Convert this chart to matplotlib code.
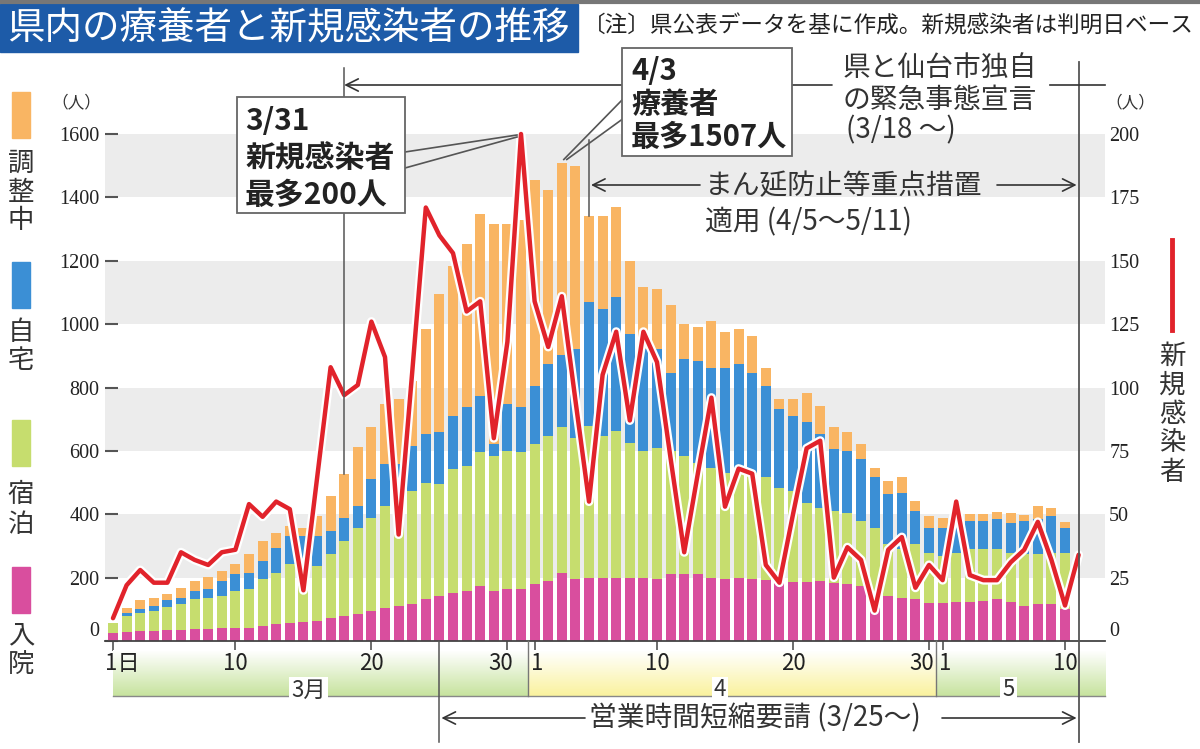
import numpy as np
import matplotlib
matplotlib.use('Agg')
import matplotlib.pyplot as plt
import matplotlib.patheffects as pe
from matplotlib.patches import Rectangle

plt.rcParams['font.family'] = ['Noto Sans CJK JP', 'DejaVu Sans']

# ---- data (3/1 .. 5/10 for bars, 3/1 .. 5/11 for new cases) ----
nyuin = [25, 28, 32, 32, 34, 34, 37, 39, 40, 40,
         42, 47, 53, 58, 60, 63, 74, 79, 84, 95,
         105, 110, 116, 132, 142, 153, 158, 174, 158, 163,
         163, 179, 189, 216, 195, 200, 200, 200, 200, 200,
         197, 210, 210, 210, 200, 197, 200, 197, 193, 184,
         186, 186, 189, 184, 179, 174, 147, 142, 137, 132,
         121, 121, 123, 123, 126, 132, 123, 110, 116, 116, 100]
shukuhaku = [33, 51, 57, 64, 74, 82, 95, 98, 102, 118,
             121, 148, 163, 184, 190, 174, 200, 237, 274, 294,
             321, 320, 358, 368, 353, 389, 395, 421, 427, 437,
             432, 442, 458, 458, 447, 479, 447, 463, 426, 400,
             413, 390, 374, 353, 347, 334, 347, 334, 323, 300,
             288, 251, 232, 227, 226, 205, 211, 163, 152, 173,
             158, 147, 156, 166, 163, 157, 156, 164, 158, 163, 179]
jitaku = [0, 8, 11, 14, 21, 21, 26, 26, 47, 52,
          53, 58, 79, 90, 80, 95, 73, 73, 68, 122,
          132, 130, 142, 153, 163, 169, 184, 179, 36, 147,
          142, 184, 227, 228, 279, 391, 400, 424, 342, 321,
          311, 247, 305, 321, 316, 332, 327, 316, 289, 248,
          237, 253, 232, 194, 195, 195, 158, 158, 179, 105,
          79, 90, 95, 90, 90, 95, 93, 105, 110, 116, 79]
chosei = [0, 18, 28, 25, 18, 31, 31, 40, 32, 32,
          58, 63, 47, 31, 28, 63, 111, 137, 185, 163,
          189, 203, 205, 331, 437, 473, 516, 573, 695, 569,
          593, 650, 549, 605, 579, 270, 293, 284, 232, 195,
          189, 214, 111, 108, 147, 111, 110, 114, 58, 31,
          52, 94, 89, 69, 58, 47, 31, 42, 48, 32,
          37, 31, 21, 21, 21, 23, 33, 19, 42, 26, 16]
shinki = [9, 22, 28, 23, 23, 35, 32, 30, 35, 36,
          54, 49, 55, 52, 20, 64, 108, 97, 101, 126,
          112, 42, 106, 171, 160, 153, 130, 134, 80, 118,
          200, 134, 116, 136, 95, 55, 105, 122, 87, 122,
          110, 72, 35, 66, 96, 53, 68, 66, 30, 23,
          50, 76, 79, 25, 37, 32, 12, 36, 41, 21,
          30, 24, 55, 26, 24, 24, 31, 36, 47, 32, 14, 34]

tick_days = [0, 9, 19, 29, 31, 40, 50, 60, 61, 70]
tick_labels = ['1日', '10', '20', '30', '1', '10', '20', '30', '1', '10']
months = ['3月', '4', '5']
left_ticks = list(range(0, 1601, 200))
right_ticks = list(range(0, 201, 25))

c_orange = '#f9b563'
c_blue = '#3b8fd5'
c_green = '#c6dd6e'
c_pink = '#d94e9e'
c_red = '#e1232b'
c_line = '#555555'

W, H = 1200, 749
fig = plt.figure(figsize=(W / 100, H / 100), dpi=100)
ax = fig.add_axes([105 / W, (H - 641) / H, 1000 / W, (641 - 130) / H])
ytop = 1600 + 4 * 1600 / 507
ax.set_xlim(-0.588, 72.94)
ax.set_ylim(0, ytop)

for lo in (200, 600, 1000, 1400):
    ax.axhspan(lo, lo + 200, color='#ececec', lw=0, zorder=0)

days = np.arange(len(nyuin))
bottom = np.zeros(len(days))
for vals, col in zip([nyuin, shukuhaku, jitaku, chosei], [c_pink, c_green, c_blue, c_orange]):
    ax.bar(days, vals, 0.74, bottom=bottom, color=col, lw=0, zorder=2)
    bottom = bottom + np.array(vals)
total = bottom

for s in ['top', 'right', 'left']:
    ax.spines[s].set_visible(False)
ax.spines['bottom'].set_color('#444444')
ax.spines['bottom'].set_linewidth(1.3)
ax.set_xticks(tick_days)
ax.tick_params(axis='x', direction='out', length=7, width=1.1, color='#444444', labelbottom=False)
ax.set_yticks(left_ticks)
ax.set_yticklabels([str(v) for v in left_ticks], fontfamily='Liberation Serif', fontsize=14.5, color='#222222')
ax.tick_params(axis='y', direction='in', length=9, width=1.5, color='#555555', pad=4)
ax.get_yticklabels()[0].set_va('bottom')

ax2 = ax.twinx()
ax2.set_ylim(0, ytop / 8)
ax2.set_yticks(right_ticks)
ax2.set_yticklabels([str(v) for v in right_ticks], fontfamily='Liberation Serif', fontsize=14.5, color='#222222')
ax2.tick_params(axis='y', length=0, pad=3)
ax2.get_yticklabels()[0].set_va('bottom')
for s in ax2.spines.values():
    s.set_visible(False)
ax2.plot(np.arange(len(shinki)), shinki, color=c_red, lw=3.2, solid_joinstyle='round',
         solid_capstyle='round', zorder=5,
         path_effects=[pe.Stroke(linewidth=6.5, foreground='white'), pe.Normal()])

# ---- overlay in pixel coordinates ----
ov = fig.add_axes([0, 0, 1, 1], zorder=10)
ov.set_xlim(0, W)
ov.set_ylim(H, 0)
ov.axis('off')
ov.patch.set_alpha(0)


def px(x, y=0, a=ax):
    X, Y = a.transData.transform((x, y))
    return X, H - Y


def vtext(x, ys, s, **kw):
    for ch, y in zip(s, ys):
        ov.text(x, y, ch, ha='center', va='center', **kw)


# title
ov.plot([0, W], [1.5, 1.5], color='#777777', lw=3)
ov.add_patch(Rectangle((0, 4), 578, 48, color='#1d5ba8'))
ov.text(7, 29, '県内の療養者と新規感染者の推移', color='white', fontsize=27, va='center')
ov.text(583, 26, '〔注〕県公表データを基に作成。新規感染者は判明日ベース', fontsize=16.3,
        va='center', color='#222222')

# left legend
for (y0, col), name, ys in zip([(92, c_orange), (262, c_blue), (420, c_green), (567, c_pink)],
                               ['調整中', '自宅', '宿泊', '入院'],
                               [(163, 192, 220), (332, 360), (494, 524), (636, 664)]):
    ov.add_patch(Rectangle((12, y0), 18, 46, color=col))
    vtext(21, ys, name, fontsize=19, color='#333333')

# right legend
ov.plot([1172, 1172], [240, 330], color=c_red, lw=3.5)
vtext(1172, (356, 385, 414, 443, 472), '新規感染者', fontsize=19, color='#333333')

ov.text(76, 103, '（人）', ha='center', va='center', fontsize=12, color='#333333')
ov.text(1130, 103, '（人）', ha='center', va='center', fontsize=12, color='#333333')

# x tick labels
for d, lab in zip(tick_days, tick_labels):
    dx = {'1日': 9, '30': -7, '1': 3}.get(lab, 0)
    ov.text(px(d)[0] + dx, 663, lab, ha='center', va='center', fontsize=16, color='#222222')

# month band
x_mar, _ = px(0)
x_apr, _ = px(30.5)
x_may, _ = px(60.5)
x_end = 1105
grad = np.linspace(0, 1, 40)[:, None, None]
for x0, x1, col, lab in [(x_mar, x_apr, (0.78, 0.89, 0.62), months[0]),
                         (x_apr, x_may, (0.98, 0.95, 0.62), months[1]),
                         (x_may, x_end, (0.78, 0.89, 0.62), months[2])]:
    img = np.ones((40, 2, 3)) * (1 - grad) + np.array(col)[None, None, :] * grad
    ov.imshow(img, extent=(x0, x1, 696, 650), aspect='auto', zorder=0)
    ov.text((x0 + x1) / 2 - 12, 690, lab, ha='center', va='center', fontsize=16, color='#333333',
            bbox=dict(fc='white', ec='none', pad=1.5), zorder=3)
ov.plot([x_mar, x_end], [696, 696], color='#888888', lw=1, zorder=2)
for xb in (x_apr, x_may):
    ov.plot([xb, xb], [641, 696], color='#777777', lw=1, zorder=2)
ov.set_xlim(0, W)
ov.set_ylim(H, 0)

arrow = dict(arrowstyle='->', color='#333333', lw=1.2, mutation_scale=22, shrinkA=0, shrinkB=0)

# 5/11 line
x511, _ = px(71)
ov.plot([x511, x511], [62, 742], color=c_line, lw=1.3)

# 3/18 emergency declaration
x318, y318 = px(17, total[17])
ov.plot([x318, x318], [68, y318], color=c_line, lw=1.1)
ov.annotate('', xy=(x318, 85), xytext=(832, 85), arrowprops=arrow)
ov.plot([1050, 1105], [85, 85], color='#333333', lw=1.2)
ov.text(843, 68, '県と仙台市独自', fontsize=20, va='center', color='#333333')
ov.text(843, 100, 'の緊急事態宣言', fontsize=20, va='center', color='#333333')
ov.text(846, 130, '(3/18 〜)', fontsize=20, va='center', color='#333333')

# 3/31 box
xp, yp = px(30, 200, ax2)
ov.plot([405, xp - 4], [152, yp + 1], color=c_line, lw=1.2)
ov.plot([405, xp - 4], [168, yp + 3], color=c_line, lw=1.2)
ov.add_patch(Rectangle((237, 97), 168, 116, fc='white', ec='#666666', lw=1.3, zorder=4))
for y, s in [(121, '3/31'), (158, '新規感染者'), (195, '最多200人')]:
    ov.text(245, y, s, fontsize=21.5, fontweight='bold', va='center', color='#222222', zorder=5)

# 4/3 box
xq, yq = px(33, total[33])
ov.plot([624, xq + 2], [98, yq - 4], color=c_line, lw=1.2)
ov.plot([624, xq + 5], [118, yq - 4], color=c_line, lw=1.2)
ov.add_patch(Rectangle((622, 48), 170, 108, fc='white', ec='#666666', lw=1.3, zorder=4))
for y, s in [(71, '4/3'), (104, '療養者'), (137, '最多1507人')]:
    ov.text(631, y, s, fontsize=21, fontweight='bold', va='center', color='#222222', zorder=5)

# 4/5 priority measures
x405, y405 = px(35, total[35])
ov.plot([x405, x405], [140, y405], color=c_line, lw=1.1)
ov.annotate('', xy=(x405 + 2, 185), xytext=(700, 185), arrowprops=arrow)
ov.annotate('', xy=(x511 - 2, 185), xytext=(997, 185), arrowprops=arrow)
ov.text(705, 186, 'まん延防止等重点措置', fontsize=20, va='center', color='#333333')
ov.text(705, 222, '適用 (4/5〜5/11)', fontsize=20, va='center', color='#333333')

# 3/25 shortened hours
x325, _ = px(24)
ov.plot([x325, x325], [641, 742], color=c_line, lw=1.1)
ov.annotate('', xy=(x325 + 2, 718), xytext=(585, 718), arrowprops=arrow)
ov.annotate('', xy=(x511 - 2, 718), xytext=(942, 718), arrowprops=arrow)
ov.text(589, 718, '営業時間短縮要請 (3/25〜)', fontsize=20, va='center', color='#333333')

fig.savefig('out.png', dpi=100)
